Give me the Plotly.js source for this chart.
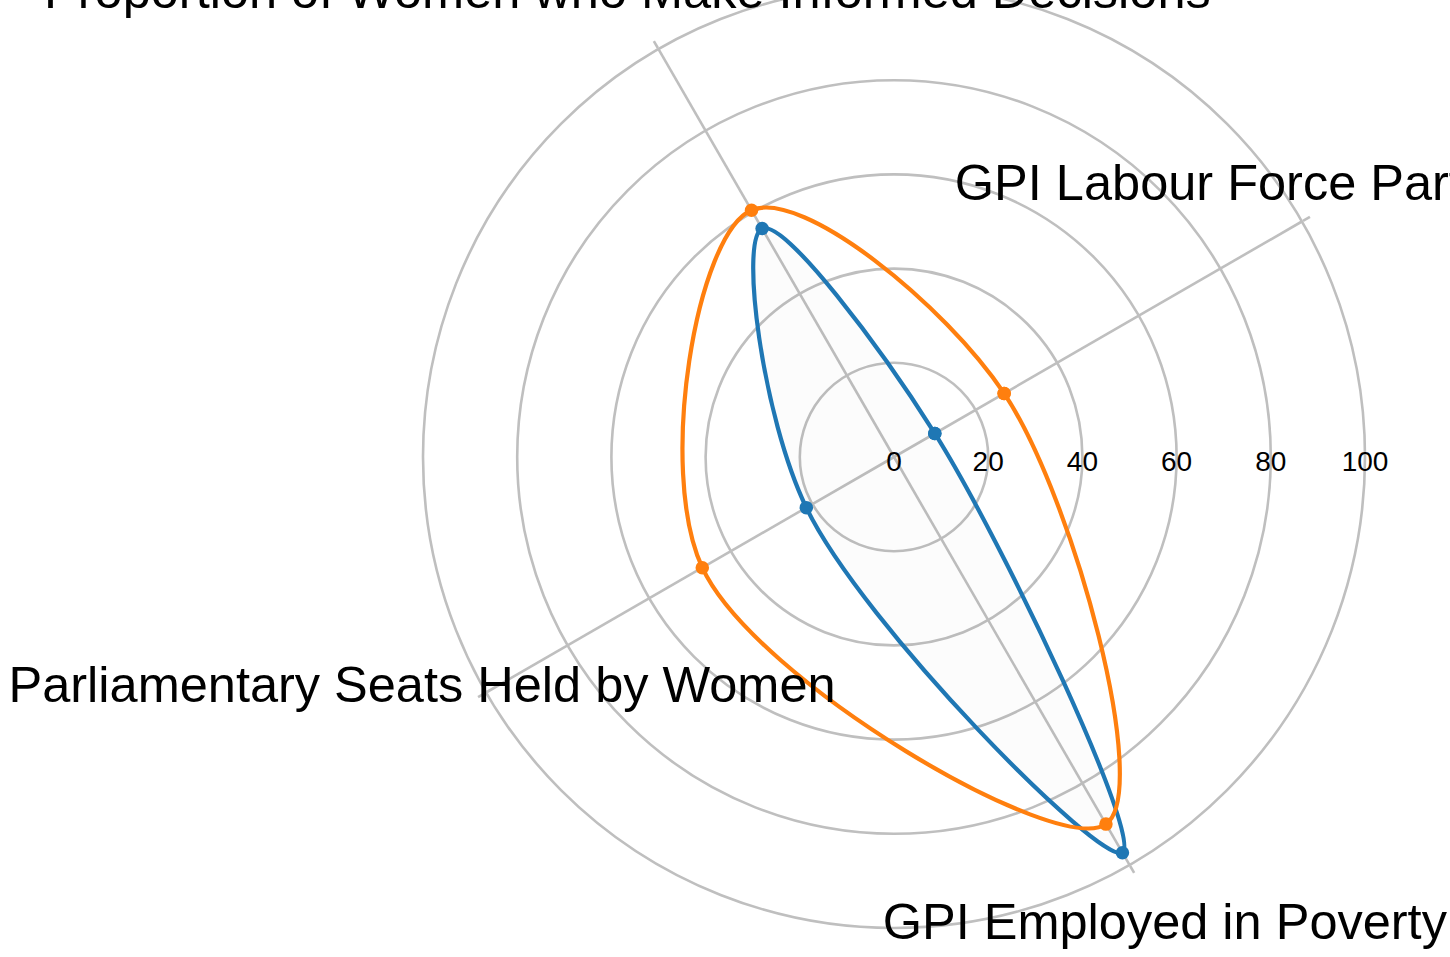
<!DOCTYPE html>
<html>
<head>
<meta charset="utf-8">
<script src="https://cdn.plot.ly/plotly-3.0.1.min.js"></script>
<style>
  html, body { margin: 0; padding: 0; overflow: hidden; background: #fff; }
  #chart { position: absolute; left: 0; top: -143px; width: 1450px; height: 1200px; }
</style>
</head>
<body>
<div id="chart"></div>
<script>
const categories = [
  "GPI Labour Force Participation Rate",
  "Proportion of Women who Make Informed Decisions",
  "Parliamentary Seats Held by Women",
  "GPI Employed in Poverty"
];
const seriesA = [10, 56, 21.5, 97];   // blue
const seriesB = [27, 60.5, 47, 90];   // orange
const radialTicks = [0, 20, 40, 60, 80, 100];
// radius (in data units) at which each category label is written
const labelRadius = [114.7, 113.2, 115.7, 115];

const grid = "rgb(191,191,191)";
const close = a => a.concat([a[0]]);
const FONT = "Liberation Sans, Arial, sans-serif";

// geometry (pixels of the plotting area, 1450 x 1200)
const W = 1450, H = 1200, CX = 894, CY = 600, R = 471, R2 = 556, LIFT = 15;

const outerIdx = [0, 1, 3];   // labels written around the main centre
const liftIdx = [2];          // label written around the lifted centre
const pick = (arr, idx) => idx.map(i => arr[i]);

const labelTrace = (subplot, idx, pos) => ({
  type: "scatterpolar",
  subplot: subplot,
  r: pick(labelRadius, idx),
  theta: pick(categories, idx),
  mode: "text",
  text: pick(categories, idx),
  textposition: pos,
  textfont: { family: FONT, size: 50.5, color: "#000" },
  cliponaxis: false,
  showlegend: false,
  hoverinfo: "skip"
});

const traces = [
  {
    type: "scatterpolar",
    subplot: "polar",
    r: close(seriesA),
    theta: close(categories),
    mode: "lines+markers",
    line: { color: "#1f77b4", width: 4.2, shape: "spline", smoothing: 1 },
    marker: { color: "#1f77b4", size: 13.5 },
    fill: "toself",
    fillcolor: "rgba(0,0,0,0.012)",
    showlegend: false,
    hoverinfo: "skip"
  },
  {
    type: "scatterpolar",
    subplot: "polar",
    r: close(seriesB),
    theta: close(categories),
    mode: "lines+markers",
    line: { color: "#ff7f0e", width: 4.2, shape: "spline", smoothing: 1 },
    marker: { color: "#ff7f0e", size: 13.5 },
    showlegend: false,
    hoverinfo: "skip"
  },
  labelTrace("polar2", outerIdx, "middle center"),
  labelTrace("polar3", liftIdx, "top center")
];

const angularBase = {
  type: "category",
  categoryorder: "array",
  categoryarray: categories,
  rotation: 30,
  direction: "counterclockwise"
};
const hiddenAngular = Object.assign({}, angularBase, {
  showticklabels: false, ticks: "", showgrid: false, showline: false
});

const layout = {
  width: W,
  height: H,
  margin: { l: 0, r: 0, t: 0, b: 0, pad: 0 },
  paper_bgcolor: "#fff",
  showlegend: false,
  font: { family: FONT, color: "#000" },
  polar: {
    domain: { x: [(CX - R) / W, (CX + R) / W], y: [(CY - R) / H, (CY + R) / H] },
    bgcolor: "#fff",
    angularaxis: Object.assign({}, angularBase, {
      showticklabels: false,
      ticks: "outside",
      ticklen: 8,
      tickwidth: 2.6,
      tickcolor: grid,
      showgrid: true,
      gridcolor: grid,
      gridwidth: 2.6,
      showline: true,
      linecolor: grid,
      linewidth: 2.6
    }),
    radialaxis: {
      range: [0, 100],
      angle: 0,
      tickvals: radialTicks,
      showticklabels: false,
      ticks: "",
      showline: false,
      showgrid: true,
      gridcolor: grid,
      gridwidth: 2.6
    }
  },
  polar2: {
    domain: { x: [(CX - R2) / W, (CX + R2) / W], y: [(CY - R2) / H, (CY + R2) / H] },
    bgcolor: "rgba(0,0,0,0)",
    angularaxis: hiddenAngular,
    radialaxis: {
      range: [0, 100 * R2 / R],
      showticklabels: false, ticks: "", showgrid: false, showline: false
    }
  },
  polar3: {
    domain: { x: [(CX - R2) / W, (CX + R2) / W],
              y: [(H - CY + LIFT - R2) / H, (H - CY + LIFT + R2) / H] },
    bgcolor: "rgba(0,0,0,0)",
    angularaxis: hiddenAngular,
    radialaxis: {
      range: [0, 100 * R2 / R],
      angle: 0,
      tickvals: radialTicks,
      ticktext: radialTicks.map(String),
      tickangle: 0,
      ticks: "",
      showline: false,
      showgrid: false,
      tickfont: { family: FONT, size: 28, color: "#000" }
    }
  }
};

Plotly.newPlot("chart", traces, layout, { staticPlot: true, displayModeBar: false });
</script>
</body>
</html>
